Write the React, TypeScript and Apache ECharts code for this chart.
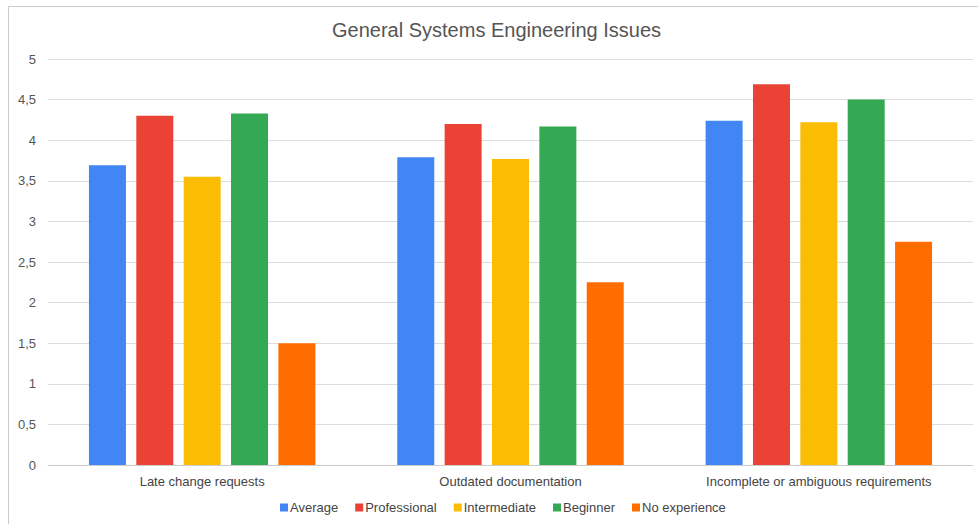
import React, { useEffect, useRef } from "react";
import * as echarts from "echarts";

const categories = [
  "Late change requests",
  "Outdated documentation",
  "Incomplete or ambiguous requirements",
];
const seriesNames = ["Average", "Professional", "Intermediate", "Beginner", "No experience"];
const average = [3.69, 3.79, 4.24];
const professional = [4.3, 4.2, 4.69];
const intermediate = [3.55, 3.77, 4.22];
const beginner = [4.33, 4.17, 4.5];
const noExperience = [1.5, 2.25, 2.75];
const colors = ["#4285F4", "#EA4335", "#FBBC04", "#34A853", "#FF6D01"];

const FONT = "'Liberation Sans', Arial, sans-serif";

export default function App() {
  const ref = useRef<HTMLDivElement>(null);

  useEffect(() => {
    if (!ref.current) return;
    const chart = echarts.init(ref.current, undefined, { renderer: "svg" });
    const values = [average, professional, intermediate, beginner, noExperience];
    chart.setOption({
      animation: false,
      backgroundColor: "#ffffff",
      textStyle: { fontFamily: FONT },
      graphic: [
        {
          type: "rect",
          shape: { x: 8.5, y: 6.5, width: 1000, height: 600 },
          style: { fill: "none", stroke: "#cccccc", lineWidth: 1 },
          silent: true,
        },
      ],
      title: {
        text: "General Systems Engineering Issues",
        left: 327,
        top: 15,
        textStyle: { fontFamily: FONT, fontSize: 20, fontWeight: "normal", color: "#555555" },
      },
      legend: {
        top: 501,
        left: 280,
        padding: 0,
        itemWidth: 8,
        itemHeight: 8,
        itemGap: 17,
        icon: "rect",
        textStyle: { fontFamily: FONT, fontSize: 13, color: "#444444", padding: [0, 0, 0, -3] },
        data: seriesNames,
      },
      grid: { left: 48, right: 5, top: 59, bottom: 59, containLabel: false },
      xAxis: {
        type: "category",
        data: categories,
        axisTick: { show: false },
        axisLine: { lineStyle: { color: "#cccccc" } },
        axisLabel: { fontFamily: FONT, fontSize: 13, color: "#444444", margin: 10 },
      },
      yAxis: {
        type: "value",
        min: 0,
        max: 5,
        interval: 0.5,
        axisLine: { show: false },
        axisTick: { show: false },
        splitLine: { lineStyle: { color: "#dddddd" } },
        axisLabel: {
          fontFamily: FONT,
          fontSize: 13,
          color: "#555555",
          margin: 12,
          formatter: (v: number) => String(v).replace(".", ","),
        },
      },
      series: seriesNames.map((name, i) => ({
        name,
        type: "bar",
        data: values[i],
        barWidth: 37,
        barGap: "28%",
        itemStyle: { color: colors[i] },
      })),
    });
    return () => chart.dispose();
  }, []);

  return (
    <div
      ref={ref}
      style={{ position: "fixed", left: 0, top: 0, width: 978, height: 524 }}
    />
  );
}
